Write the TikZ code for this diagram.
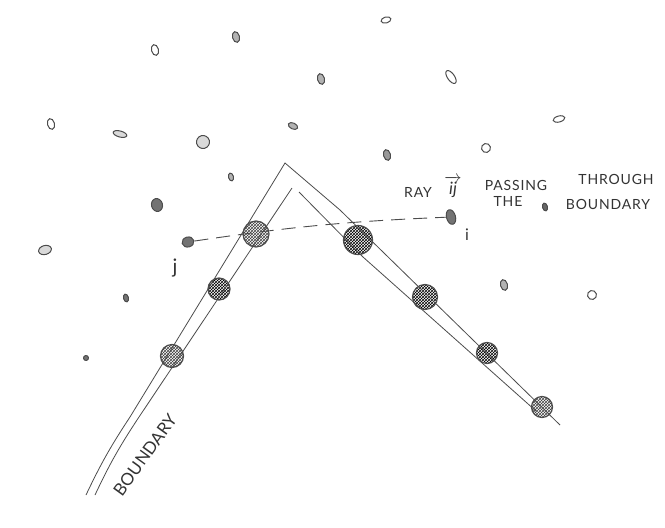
\documentclass[tikz,border=0pt]{standalone}
\usepackage{amsmath, amssymb}
\usepackage{fontspec}
\setmainfont{Lato}
\newfontfamily\spaced[LetterSpace=6]{Lato}
\usetikzlibrary{patterns,shapes.geometric}

\begin{document}
\begin{tikzpicture}[x=1pt,y=-1pt,draw=black!70,text=black!80]
    \tikzstyle{every node}=[inner sep=0pt]
    \tikzstyle{neuron}=[ellipse,draw=black!70,line width=1pt,minimum width=7pt,minimum height=11pt,rotate=15]
    \tikzstyle{smalln}=[neuron,minimum width=5pt,minimum height=8pt,fill=black!30]
    \tikzstyle{flat}=[neuron,minimum width=10pt,minimum height=6pt]
    \tikzstyle{darkn}=[neuron,minimum width=11pt,minimum height=13pt,fill=black!55]
    \tikzstyle{bnd}=[circle,draw=black!70,pattern=crosshatch,pattern color=black!75,line width=1.2pt,minimum size=23pt]
    \tikzstyle{wall}=[line width=0.8pt,draw=black!70]
    \tikzstyle{hand}=[font=\spaced\fontsize{14}{14}\selectfont]
\useasboundingbox (0,0) rectangle (665,528);

% points of the cloud
\node[neuron] (p1) at (155,50) {};
\node[neuron,fill=black!30] (p2) at (236,37) {};
\node[flat] (p3) at (386,20) {};
\node[neuron,fill=black!30] (p4) at (321,79) {};
\node[neuron,rotate=20,minimum height=15pt] (p5) at (451,77) {};
\node[neuron] (p6) at (51,124) {};
\node[flat,minimum width=14pt,rotate=-30,fill=black!15] (p7) at (120,134) {};
\node[neuron,minimum width=13pt,minimum height=13pt,fill=black!15] (p8) at (203,142) {};
\node[flat,rotate=-40,fill=black!30] (p9) at (293,126) {};
\node[neuron,fill=black!40] (p10) at (387,155) {};
\node[neuron,minimum width=9pt,minimum height=9pt] (p11) at (486,148) {};
\node[flat,minimum width=12pt] (p12) at (559,119) {};
\node[smalln] (p13) at (231,177) {};
\node[darkn] (p14) at (157,205) {};
\node[flat,minimum width=13pt,minimum height=9pt,fill=black!15] (p15) at (45,250) {};
\node[smalln,fill=black!55] (p16) at (126,298) {};
\node[smalln,minimum height=5pt,fill=black!55] (p17) at (86,358) {};
\node[neuron,fill=black!30] (p18) at (504,285) {};
\node[neuron,minimum width=9pt,minimum height=9pt] (p19) at (592,295) {};

% ray
\node[darkn,minimum width=12pt,minimum height=10pt] (j) at (188,242) {};
\node[darkn,minimum width=9pt,minimum height=15pt] (i) at (451,217) {};
\node[font=\fontsize{20}{20}\selectfont] (labj) at (175,268) {j};
\node[font=\fontsize{16}{16}\selectfont] (labi) at (467,235) {i};

% boundary points
\node[bnd] (b1) at (172,356) {};
\node[bnd,minimum size=22pt,pattern color=black] (b2) at (219,289) {};
\node[bnd,minimum size=26pt] (b3) at (256,234) {};
\node[bnd,minimum size=29pt,pattern color=black] (b4) at (358,240) {};
\node[bnd,minimum size=25pt,pattern color=black] (b5) at (425,297) {};
\node[bnd,minimum size=21pt,pattern color=black] (b6) at (487,353) {};
\node[bnd,minimum size=21pt] (b7) at (542,407) {};

% the two walls
\coordinate (oa) at (86,495);
\coordinate (ob) at (130,417);
\coordinate (oc) at (285,163);
\coordinate (od) at (340,210);
\coordinate (oe) at (560,425);
\coordinate (ia) at (95,495);
\coordinate (ib) at (137,420);
\coordinate (ic) at (292,188);
\coordinate (id) at (299,192);
\coordinate (ie) at (363,257);
\coordinate (if) at (536,411);

\draw[wall] (oa) to[bend left=4] (ob) -- (oc) -- (od) -- (oe);
\draw[wall] (ia) to[bend left=4] (ib) -- (ic);
\draw[wall] (id) -- (ie) -- (if);

\draw[dashed,dash pattern=on 14pt off 8pt,line width=0.9pt] (j) to[bend left=3] (i);

% text
\node[hand] (ray) at (418,192) {RAY};
\node[font=\fontsize{17}{17}\selectfont] (ij) at (453,187) {$\overrightarrow{\mathit{ij}}$};
\node[hand] (pass) at (516,185) {PASSING};
\node[hand] (thr) at (616,179) {THROUGH};
\node[hand] (the) at (508,201) {THE};
\node[smalln,fill=black!60] (sep) at (545,207) {};
\node[hand] (bdy) at (608,204) {BOUNDARY};
\node[rotate=54,font=\fontsize{17}{17}\selectfont] (blab) at (145,455) {BOUNDARY};
\end{tikzpicture}
\end{document}
